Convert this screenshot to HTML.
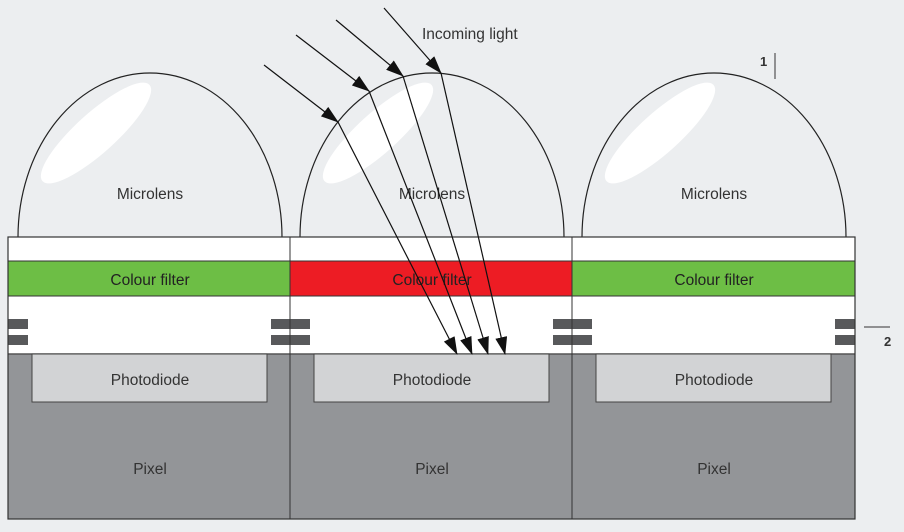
<!DOCTYPE html>
<html><head><style>html,body{margin:0;padding:0;background:#eceef0}svg{display:block}text{font-family:"Liberation Sans",sans-serif;font-size:15.5px;fill:#333}</style></head>
<body>
<svg width="904" height="532" viewBox="0 0 904 532" xmlns="http://www.w3.org/2000/svg">
<defs><marker id="ah" markerWidth="18" markerHeight="12" refX="17" refY="6" orient="auto" markerUnits="userSpaceOnUse"><path d="M0,0 L18,6 L0,12 Z" fill="#111"/></marker></defs>
<rect width="904" height="532" fill="#eceef0"/>
<!-- lenses -->
<g fill="#eceef0" stroke="#222" stroke-width="1.2">
<path d="M18,237 A132,164 0 0 1 282,237"/>
<path d="M300,237 A132,164 0 0 1 564,237"/>
<path d="M582,237 A132,164 0 0 1 846,237"/>
</g>
<g fill="#fff">
<ellipse cx="96" cy="133" rx="72" ry="20" transform="rotate(-42 96 133)"/>
<ellipse cx="378" cy="133" rx="72" ry="20" transform="rotate(-42 378 133)"/>
<ellipse cx="660" cy="133" rx="72" ry="20" transform="rotate(-42 660 133)"/>
</g>
<text x="150" y="199" text-anchor="middle">Microlens</text>
<text x="432" y="199" text-anchor="middle">Microlens</text>
<text x="714" y="199" text-anchor="middle">Microlens</text>
<!-- layers -->
<rect x="8" y="237" width="847" height="282" fill="#fff"/>
<rect x="8" y="261" width="282" height="35" fill="#6dbe45" stroke="#333"/>
<rect x="290" y="261" width="282" height="35" fill="#ed1c24" stroke="#333"/>
<rect x="572" y="261" width="283" height="35" fill="#6dbe45" stroke="#333"/>
<rect x="8" y="354" width="847" height="165" fill="#939598"/>
<line x1="8" y1="354" x2="855" y2="354" stroke="#555" stroke-width="1.5"/>
<g fill="#d2d3d5" stroke="#444"><rect x="32" y="354" width="235" height="48"/><rect x="314" y="354" width="235" height="48"/><rect x="596" y="354" width="235" height="48"/></g>
<g fill="#58595b">
<rect x="8" y="319" width="20" height="10"/><rect x="8" y="335" width="20" height="10"/>
<rect x="271" y="319" width="39" height="10"/><rect x="271" y="335" width="39" height="10"/>
<rect x="553" y="319" width="39" height="10"/><rect x="553" y="335" width="39" height="10"/>
<rect x="835" y="319" width="20" height="10"/><rect x="835" y="335" width="20" height="10"/>
</g>
<rect x="8" y="237" width="847" height="282" fill="none" stroke="#333" stroke-width="1.2"/>
<line x1="290" y1="237" x2="290" y2="519" stroke="#333"/>
<line x1="572" y1="237" x2="572" y2="519" stroke="#333"/>
<text x="150" y="285" text-anchor="middle" style="fill:#222">Colour filter</text>
<text x="432" y="285" text-anchor="middle" style="fill:#222">Colour filter</text>
<text x="714" y="285" text-anchor="middle" style="fill:#222">Colour filter</text>
<text x="150" y="385" text-anchor="middle">Photodiode</text>
<text x="432" y="385" text-anchor="middle">Photodiode</text>
<text x="714" y="385" text-anchor="middle">Photodiode</text>
<text x="150" y="474" text-anchor="middle">Pixel</text>
<text x="432" y="474" text-anchor="middle">Pixel</text>
<text x="714" y="474" text-anchor="middle">Pixel</text>
<!-- arrows -->
<g stroke="#111" stroke-width="1.2" fill="none">
<line x1="264" y1="65" x2="338" y2="122" marker-end="url(#ah)"/><line x1="338" y1="122" x2="457" y2="354" marker-end="url(#ah)"/>
<line x1="296" y1="35" x2="369" y2="91" marker-end="url(#ah)"/><line x1="369" y1="91" x2="472" y2="354" marker-end="url(#ah)"/>
<line x1="336" y1="20" x2="403" y2="76" marker-end="url(#ah)"/><line x1="403" y1="76" x2="488" y2="354" marker-end="url(#ah)"/>
<line x1="384" y1="8" x2="441" y2="73" marker-end="url(#ah)"/><line x1="441" y1="73" x2="505" y2="354" marker-end="url(#ah)"/>
</g>
<text x="422" y="39">Incoming light</text>
<text x="760" y="66" style="font-weight:bold;font-size:13px">1</text>
<line x1="775" y1="53" x2="775" y2="79" stroke="#333"/>
<line x1="864" y1="327" x2="890" y2="327" stroke="#333"/>
<text x="884" y="346" style="font-weight:bold;font-size:13px">2</text>
</svg>
</body></html>
